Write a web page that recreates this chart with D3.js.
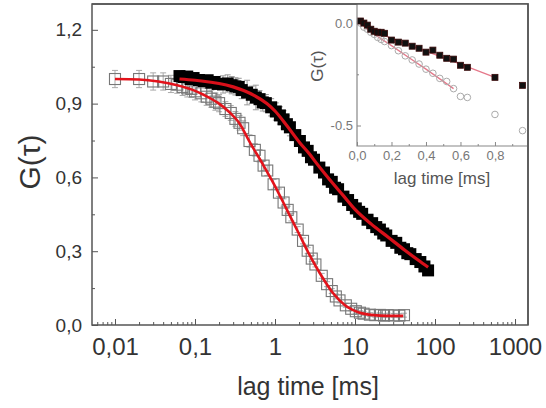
<!DOCTYPE html>
<html><head><meta charset="utf-8">
<script src="https://cdn.jsdelivr.net/npm/d3@7"></script>
<style>body{margin:0;background:#fff}svg{display:block;font-family:"Liberation Sans",Arial,sans-serif}</style>
</head><body>
<svg id="c" width="546" height="408"></svg>
<script>
// ---- main chart data: series A (open squares) ----
const tauA = [0.01,0.02,0.03,0.04,0.05,0.06,0.07,0.08,0.09,0.1,0.12,0.14,0.16,0.18,0.2,0.24,0.28,0.32,0.36,0.4,0.48,0.56,0.64,0.72,0.8,0.96,1.12,1.28,1.44,1.6,1.92,2.24,2.56,2.88,3.2,3.84,4.48,5.12,5.76,6.4,7.68,8.96,10.24,11.52,12.8,15.36,17.92,20.48,23.04,25.6,30.72,35.84,40.96];
const gA = [1.0,1.0,0.99,0.99,0.98,0.977,0.968,0.962,0.96,0.95,0.942,0.928,0.92,0.908,0.902,0.878,0.862,0.838,0.822,0.8,0.748,0.712,0.688,0.648,0.628,0.572,0.538,0.498,0.468,0.438,0.388,0.342,0.302,0.27,0.246,0.2,0.166,0.138,0.116,0.1,0.08,0.066,0.056,0.05,0.046,0.042,0.04,0.041,0.038,0.04,0.039,0.038,0.04];
const errA = [0.035,0.035,0.035,0.035,0.035,0.035,0.035,0.035,0.035,0.035,0.035,0.035,0.035,0.035,0.035,0.03,0.03,0.03,0.03,0.03,0.025,0.025,0.025,0.02,0.02,0.02,0.015,0.015,0.015,0.015,0.012,0.012,0.012,0.012,0.01,0.01,0.01,0.01,0.01,0.01,0.008,0.008,0.008,0.008,0.008,0.008,0.008,0.008,0.008,0.008,0.008,0.008,0.008];
// ---- series B (filled squares) ----
const tauB = [0.064,0.072,0.08,0.088,0.096,0.112,0.128,0.144,0.16,0.176,0.192,0.224,0.256,0.288,0.32,0.352,0.384,0.448,0.512,0.576,0.64,0.704,0.768,0.896,1.024,1.152,1.28,1.408,1.536,1.792,2.048,2.304,2.56,2.816,3.072,3.584,4.096,4.608,5.12,5.632,6.144,7.168,8.192,9.216,10.24,11.26,12.29,14.34,16.38,18.43,20.48,22.53,24.58,28.67,32.77,36.86,40.96,45.06,49.15,57.34,65.54,73.73,81.92];
const gB = [1.012,1.008,1.01,1.0,1.004,0.996,0.992,0.995,0.985,0.988,0.98,0.978,0.982,0.975,0.97,0.968,0.955,0.945,0.936,0.925,0.918,0.905,0.902,0.885,0.868,0.852,0.836,0.816,0.804,0.772,0.748,0.722,0.708,0.682,0.672,0.64,0.62,0.592,0.582,0.558,0.552,0.522,0.508,0.488,0.474,0.46,0.452,0.428,0.414,0.398,0.388,0.372,0.364,0.342,0.334,0.314,0.308,0.292,0.288,0.268,0.256,0.238,0.222];
const errB = [0.02,0.02,0.02,0.02,0.02,0.02,0.02,0.02,0.02,0.02,0.02,0.035,0.035,0.035,0.035,0.035,0.035,0.05,0.035,0.05,0.035,0.035,0.035,0.035,0.035,0.035,0.035,0.035,0.035,0.015,0.015,0.015,0.015,0.015,0.015,0.015,0.015,0.015,0.015,0.015,0.015,0.015,0.015,0.015,0.015,0.015,0.015,0.015,0.015,0.015,0.015,0.015,0.015,0.015,0.015,0.015,0.015,0.015,0.015,0.015,0.015,0.015,0.015];
// ---- fit curves ----
const fitTauA = [0.01,0.02,0.035,0.06,0.09,0.13,0.19,0.27,0.35,0.5,0.7,1.0,1.4,2.0,2.7,3.8,5.3,7.5,11,17,25,40];
const fitGA = [1.0,0.998,0.99,0.975,0.958,0.935,0.905,0.865,0.825,0.735,0.655,0.565,0.47,0.37,0.285,0.2,0.13,0.08,0.052,0.04,0.037,0.037];
const fitTauB = [0.064,0.1,0.15,0.2,0.3,0.5,0.79,1.0,1.41,2.05,2.7,3.35,4.2,5.3,7.1,10,16,26,42,62,82];
const fitGB = [1.0,0.995,0.988,0.982,0.968,0.94,0.9,0.87,0.81,0.74,0.695,0.655,0.615,0.575,0.527,0.47,0.41,0.357,0.304,0.263,0.235];
// ---- inset data ----
const insetTau = [0.02,0.04,0.06,0.08,0.10,0.12,0.14,0.16,0.20,0.24,0.28,0.32,0.36,0.40,0.44,0.48,0.52,0.56,0.60,0.64,0.80,0.96];
const insetSquares = [0.01,0.0,-0.01,-0.03,-0.04,-0.045,-0.045,-0.05,-0.083,-0.093,-0.098,-0.113,-0.123,-0.142,-0.132,-0.157,-0.172,-0.176,-0.206,-0.216,-0.265,-0.304];
const insetCircles = [0.0,-0.02,-0.03,-0.045,-0.055,-0.07,-0.08,-0.09,-0.11,-0.135,-0.16,-0.18,-0.2,-0.225,-0.245,-0.27,-0.285,-0.32,-0.358,-0.363,-0.446,-0.525];
const insetFitTauSq = [0.02,0.1,0.2,0.4,0.6,0.8];
const insetFitSq = [0.005,-0.04,-0.075,-0.137,-0.2,-0.265];
const insetFitTauCi = [0.0,0.1,0.2,0.3,0.4,0.56];
const insetFitCi = [0.01,-0.055,-0.11,-0.168,-0.225,-0.32];
// ---- ticks ----
const xTickValues = [0.01,0.1,1,10,100,1000];
const xTickLabels = ["0,01","0,1","1","10","100","1000"];
const yTickValues = [0,0.3,0.6,0.9,1.2];
const yTickLabels = ["0,0","0,3","0,6","0,9","1,2"];
const yMinorValues = [0.15,0.45,0.75,1.05];
const insetXTickValues = [0,0.2,0.4,0.6,0.8];
const insetXTickLabels = ["0,0","0,2","0,4","0,6","0,8"];
const insetXMinorValues = [0.1,0.3,0.5,0.7,0.9];
const insetYTickValues = [0,-0.5];
const insetYTickLabels = ["0.0","-0.5"];
const insetYMinorValues = [-0.25];

const svg = d3.select("#c");
const L=92,R=528,T=4,B=325;
const x = d3.scaleLog().domain([0.00516,1453]).range([L,R]);
const y = d3.scaleLinear().domain([0,1.305]).range([B,T]);

const xMinor = [];
for (let e=-3;e<=3;e++) for (let k=2;k<=9;k++){const v=k*Math.pow(10,e); if(v>0.00516&&v<1453) xMinor.push(v);}

const axisCol="#555";
const gxm = svg.append("g").attr("transform",`translate(0,${B})`)
  .call(d3.axisBottom(x).tickValues(xMinor).tickSize(-3).tickFormat(""));
const gx = svg.append("g").attr("transform",`translate(0,${B})`)
  .call(d3.axisBottom(x).tickValues(xTickValues).tickSize(-6).tickPadding(13)
    .tickFormat((d,i)=>xTickLabels[i]));
gx.selectAll("text").attr("font-size",24).attr("fill","#333").attr("font-family","Liberation Sans, Arial, sans-serif");
const gym = svg.append("g").attr("transform",`translate(${L},0)`)
  .call(d3.axisLeft(y).tickValues(yMinorValues).tickSize(-3).tickFormat(""));
const gy = svg.append("g").attr("transform",`translate(${L},0)`)
  .call(d3.axisLeft(y).tickValues(yTickValues).tickSize(-6).tickPadding(10)
    .tickFormat((d,i)=>yTickLabels[i]));
gy.selectAll("text").attr("font-size",19).attr("fill","#333").attr("font-family","Liberation Sans, Arial, sans-serif");
[gxm,gx,gym,gy].forEach(g=>{g.select(".domain").remove(); g.selectAll("line").attr("stroke",axisCol).attr("stroke-width",1);});

svg.append("text").attr("x",308).attr("y",395).attr("text-anchor","middle")
  .attr("font-size",25).attr("fill","#333").text("lag time [ms]");
svg.append("text").attr("transform","translate(40,162) rotate(-90)").attr("text-anchor","middle")
  .attr("font-size",30).attr("fill","#333").text("G(τ)");

const dA = tauA.map((t,i)=>({t,g:gA[i],e:errA[i]}));
const dB = tauB.map((t,i)=>({t,g:gB[i],e:errB[i]}));
function errBars(data,col){
  const g = svg.append("g").attr("stroke",col).attr("stroke-width",1);
  data.forEach(d=>{
    const cx=x(d.t), y1=y(d.g+d.e), y2=y(d.g-d.e);
    g.append("line").attr("x1",cx).attr("x2",cx).attr("y1",y1).attr("y2",y2);
    g.append("line").attr("x1",cx-3).attr("x2",cx+3).attr("y1",y1).attr("y2",y1);
    g.append("line").attr("x1",cx-3).attr("x2",cx+3).attr("y1",y2).attr("y2",y2);
  });
}
errBars(dA,"#aaa");
svg.append("g").selectAll("rect").data(dA).join("rect")
  .attr("x",d=>x(d.t)-5.5).attr("y",d=>y(d.g)-5.5).attr("width",11).attr("height",11)
  .attr("fill","none").attr("stroke","#777").attr("stroke-width",1.1);
errBars(dB,"#999");
svg.append("g").selectAll("rect").data(dB).join("rect")
  .attr("x",d=>x(d.t)-6).attr("y",d=>y(d.g)-6).attr("width",12).attr("height",12)
  .attr("fill","#000");

const line = d3.line().x(d=>x(d[0])).y(d=>y(d[1])).curve(d3.curveMonotoneX);
svg.append("path").attr("d",line(fitTauA.map((t,i)=>[t,fitGA[i]])))
  .attr("fill","none").attr("stroke","#e3131b").attr("stroke-width",2.6);
svg.append("path").attr("d",line(fitTauB.map((t,i)=>[t,fitGB[i]])))
  .attr("fill","none").attr("stroke","#d8101a").attr("stroke-width",3.2);

svg.append("rect").attr("x",L).attr("y",T).attr("width",R-L).attr("height",B-T)
  .attr("fill","none").attr("stroke",axisCol).attr("stroke-width",1.5);

// ---- inset ----
const iL=357,iR=527,iT=4,iB=146;
svg.append("rect").attr("x",iL).attr("y",iT).attr("width",iR-iL).attr("height",iB-iT).attr("fill","#fff");
const ix = d3.scaleLinear().domain([0,0.98]).range([iL,iR-1]);
const iy = d3.scaleLinear().domain([-0.6,0.093]).range([iB,iT]);
const icol="#888";
const gix = svg.append("g").attr("transform",`translate(0,${iB})`)
  .call(d3.axisBottom(ix).tickValues(insetXTickValues).tickSize(-4).tickPadding(5).tickFormat((d,i)=>insetXTickLabels[i]));
const gixm = svg.append("g").attr("transform",`translate(0,${iB})`)
  .call(d3.axisBottom(ix).tickValues(insetXMinorValues).tickSize(-2).tickFormat(""));
const giy = svg.append("g").attr("transform",`translate(${iL},0)`)
  .call(d3.axisLeft(iy).tickValues(insetYTickValues).tickSize(-4).tickPadding(4).tickFormat((d,i)=>insetYTickLabels[i]));
const giym = svg.append("g").attr("transform",`translate(${iL},0)`)
  .call(d3.axisLeft(iy).tickValues(insetYMinorValues).tickSize(-2).tickFormat(""));
[gix,gixm,giy,giym].forEach(g=>{g.select(".domain").remove(); g.selectAll("line").attr("stroke",icol);});
[gix,giy].forEach(g=>g.selectAll("text").attr("font-size",13).attr("fill","#777").attr("font-family","Liberation Sans, Arial, sans-serif"));
svg.append("text").attr("x",442).attr("y",184).attr("text-anchor","middle")
  .attr("font-size",17).attr("fill","#555").text("lag time [ms]");
svg.append("text").attr("transform","translate(323,66) rotate(-90)").attr("text-anchor","middle")
  .attr("font-size",17).attr("fill","#555").text("G(τ)");

const iline = d3.line().x(d=>ix(d[0])).y(d=>iy(d[1]));
svg.append("path").attr("d",iline(insetFitTauCi.map((t,i)=>[t,insetFitCi[i]])))
  .attr("fill","none").attr("stroke","#e5788a").attr("stroke-width",1.3);
svg.append("path").attr("d",iline(insetFitTauSq.map((t,i)=>[t,insetFitSq[i]])))
  .attr("fill","none").attr("stroke","#e5788a").attr("stroke-width",1.3);
svg.append("g").selectAll("circle").data(insetTau.map((t,i)=>[t,insetCircles[i]])).join("circle")
  .attr("cx",d=>ix(d[0])).attr("cy",d=>iy(d[1])).attr("r",3.3)
  .attr("fill","none").attr("stroke","#aaa").attr("stroke-width",1);
svg.append("g").selectAll("rect").data(insetTau.map((t,i)=>[t,insetSquares[i]])).join("rect")
  .attr("x",d=>ix(d[0])-3).attr("y",d=>iy(d[1])-3).attr("width",6).attr("height",6)
  .attr("fill","#111").attr("stroke","#3a0a0a").attr("stroke-width",0.8);
svg.append("path").attr("d",`M${iL},${iT}V${iB}H${iR}`).attr("fill","none").attr("stroke",icol).attr("stroke-width",1.2);
svg.append("path").attr("d",`M${L},${T}H${R}V${B}`).attr("fill","none").attr("stroke",axisCol).attr("stroke-width",1.5);
</script>
</body></html>
